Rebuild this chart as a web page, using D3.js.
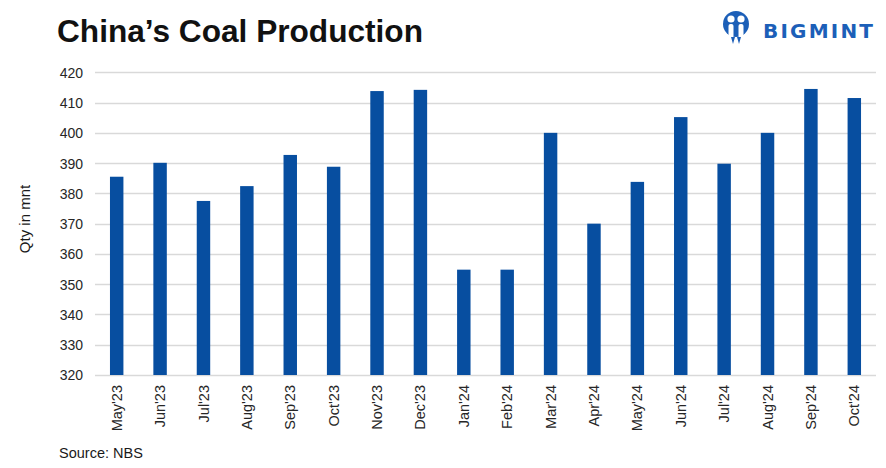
<!DOCTYPE html>
<html>
<head>
<meta charset="utf-8">
<script src="https://cdn.jsdelivr.net/npm/d3@7"></script>
<style>
  html, body { margin: 0; padding: 0; background: #fff; }
  svg { display: block; }
</style>
</head>
<body>
<script>
const categories = ["May'23","Jun'23","Jul'23","Aug'23","Sep'23","Oct'23","Nov'23","Dec'23","Jan'24","Feb'24","Mar'24","Apr'24","May'24","Jun'24","Jul'24","Aug'24","Sep'24","Oct'24"];
const values = [385.5, 390.1, 377.5, 382.4, 392.7, 388.8, 413.8, 414.2, 354.8, 354.8, 400.0, 370.0, 383.8, 405.2, 389.8, 400.0, 414.5, 411.5];
const yTicks = [320, 330, 340, 350, 360, 370, 380, 390, 400, 410, 420];
const titleText = "China\u2019s Coal Production";
const yTitle = "Qty in mnt";
const sourceText = "Source: NBS";
const logoText = "BIGMINT";

const W = 886, H = 468;
const svg = d3.select("body").append("svg").attr("width", W).attr("height", H);
const font = "'Liberation Sans', Arial, Helvetica, sans-serif";

const pLeft = 95, pRight = 876, pTop = 72.3, pBottom = 375;
const x = d3.scaleBand().domain(categories).range([pLeft, pRight]).paddingInner(0.69).paddingOuter(0.345);
const y = d3.scaleLinear().domain([320, 420]).range([pBottom, pTop]);

// gridlines
svg.append("g").selectAll("line").data(yTicks).join("line")
  .attr("x1", pLeft).attr("x2", pRight)
  .attr("y1", d => Math.round(y(d)) + 0.5).attr("y2", d => Math.round(y(d)) + 0.5)
  .attr("stroke", "#d9d9d9").attr("stroke-width", 1.3);

// bars
svg.append("g").selectAll("rect").data(values).join("rect")
  .attr("x", (d, i) => x(categories[i]))
  .attr("width", x.bandwidth())
  .attr("y", d => y(d))
  .attr("height", d => y(320) - y(d))
  .attr("fill", "#074ea0");

// y axis labels
const yAxis = d3.axisLeft(y).tickValues(yTicks).tickSize(0).tickPadding(0).tickFormat(d3.format("d"));
const gy = svg.append("g").attr("transform", `translate(${pLeft - 12},0)`).call(yAxis);
gy.select(".domain").remove();
gy.selectAll("text").attr("font-family", font).attr("font-size", 14).attr("fill", "#262626").attr("dy", "0.35em");

// x axis labels
const xAxis = d3.axisBottom(x).tickSize(0).tickPadding(0);
const gx = svg.append("g").attr("transform", `translate(0,${pBottom + 10})`).call(xAxis);
gx.select(".domain").remove();
gx.selectAll("text")
  .attr("font-family", font).attr("font-size", 14.5).attr("fill", "#262626")
  .attr("transform", "rotate(-90)")
  .attr("text-anchor", "end")
  .attr("x", 0).attr("y", 0).attr("dy", "0.35em");

// y title
svg.append("text")
  .attr("transform", "translate(30,219) rotate(-90)")
  .attr("text-anchor", "middle")
  .attr("font-family", font).attr("font-size", 15).attr("fill", "#1a1a1a")
  .text(yTitle);

// title
svg.append("text")
  .attr("x", 57).attr("y", 41.5)
  .attr("font-family", font).attr("font-weight", "bold").attr("font-size", 30.5)
  .attr("textLength", 366).attr("lengthAdjust", "spacingAndGlyphs")
  .attr("fill", "#111")
  .text(titleText);

// source
svg.append("text")
  .attr("x", 59).attr("y", 458)
  .attr("font-family", font).attr("font-size", 14.5).attr("fill", "#1a1a1a")
  .text(sourceText);

// logo
const logo = svg.append("g");
const blue = "#1c5fb8";
logo.append("circle").attr("cx", 736).attr("cy", 24).attr("r", 13).attr("fill", blue);
logo.append("circle").attr("cx", 731).attr("cy", 19).attr("r", 3.6).attr("fill", "#fff");
logo.append("circle").attr("cx", 741).attr("cy", 19).attr("r", 3.6).attr("fill", "#fff");
logo.append("rect").attr("x", 728.5).attr("y", 24).attr("width", 5).attr("height", 14).attr("rx", 2).attr("fill", "#fff");
logo.append("rect").attr("x", 738.5).attr("y", 24).attr("width", 5).attr("height", 14).attr("rx", 2).attr("fill", "#fff");
logo.append("path").attr("d", "M731,37 L733,44 L735,37 Z M737,37 L739,44 L741,37 Z").attr("fill", blue);
logo.append("text")
  .attr("x", 763).attr("y", 37.5)
  .attr("font-family", "'DejaVu Sans', Verdana, sans-serif").attr("font-weight", "bold").attr("font-size", 20)
  .attr("textLength", 110).attr("lengthAdjust", "spacing")
  .attr("fill", blue)
  .text(logoText);
</script>
</body>
</html>
